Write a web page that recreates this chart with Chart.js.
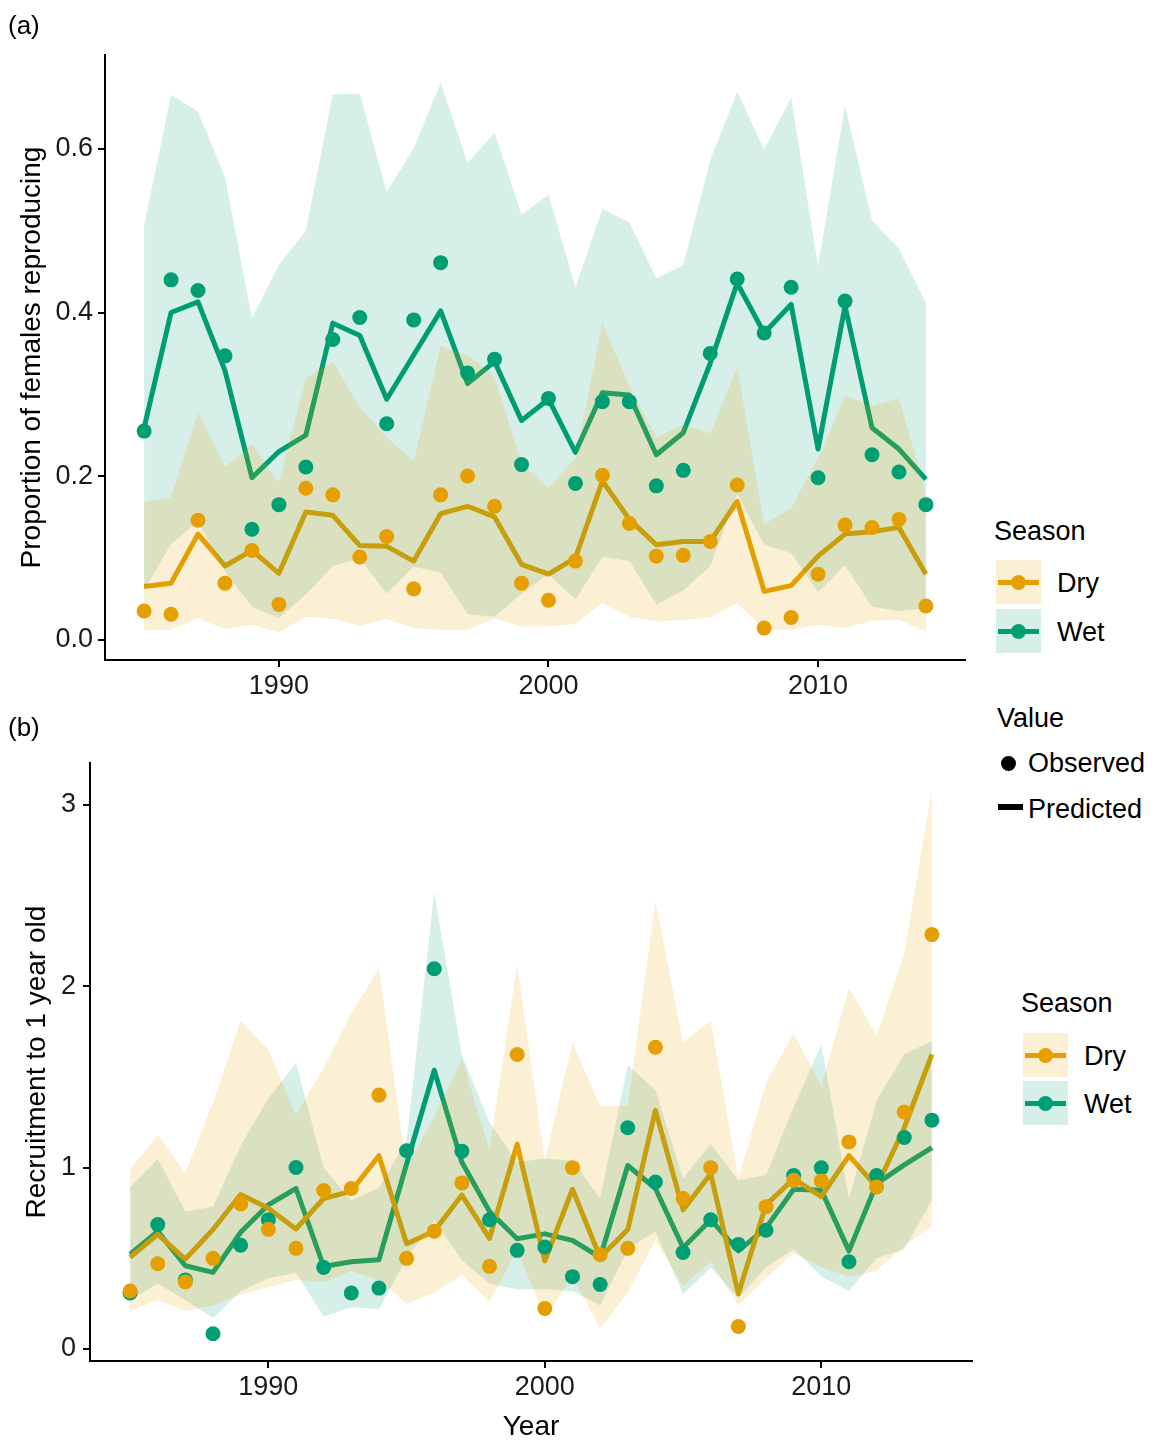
<!DOCTYPE html>
<html>
<head>
<meta charset="utf-8">
<script src="https://cdn.jsdelivr.net/npm/chart.js@4/dist/chart.umd.min.js"></script>
<style>
  body { margin: 0; background: #fff; font-family: "Liberation Sans", Arial, sans-serif; color: #000; }
  #wrap { position: relative; width: 1161px; height: 1442px; overflow: hidden; }
  canvas { position: absolute; left: 0; }
  .lbl { position: absolute; font-size: 26px; line-height: 1; }
  .txt { position: absolute; font-size: 27px; line-height: 1; white-space: nowrap; }
  .key { position: absolute; width: 45px; height: 44px; }
  .key .ln { position: absolute; left: 2px; right: 2px; top: 20px; height: 5px; }
  .key .pt { position: absolute; left: 15px; top: 15px; width: 15px; height: 15px; border-radius: 50%; }
</style>
</head>
<body>
<div id="wrap">
  <canvas id="chartA" width="980" height="720" style="top:0"></canvas>
  <canvas id="chartB" width="980" height="702" style="top:740px"></canvas>

  <div class="lbl" style="left:8px;top:12px">(a)</div>
  <div class="lbl" style="left:8px;top:714px">(b)</div>

  <div class="txt" style="left:994px;top:518px">Season</div>
  <div class="key" style="left:996px;top:560px;background:rgba(230,159,0,0.17)"><div class="ln" style="background:#E69F00"></div><div class="pt" style="background:#E69F00"></div></div>
  <div class="key" style="left:996px;top:609px;background:rgba(0,158,115,0.16)"><div class="ln" style="background:#009E73"></div><div class="pt" style="background:#009E73"></div></div>
  <div class="txt" style="left:1057px;top:570px">Dry</div>
  <div class="txt" style="left:1057px;top:619px">Wet</div>

  <div class="txt" style="left:997px;top:705px">Value</div>
  <div style="position:absolute;left:1001px;top:756px;width:15px;height:15px;border-radius:50%;background:#000"></div>
  <div class="txt" style="left:1028px;top:750px">Observed</div>
  <div style="position:absolute;left:998px;top:804px;width:25px;height:6px;background:#000"></div>
  <div class="txt" style="left:1028px;top:796px">Predicted</div>

  <div class="txt" style="left:1021px;top:990px">Season</div>
  <div class="key" style="left:1023px;top:1033px;background:rgba(230,159,0,0.17)"><div class="ln" style="background:#E69F00"></div><div class="pt" style="background:#E69F00"></div></div>
  <div class="key" style="left:1023px;top:1081px;background:rgba(0,158,115,0.16)"><div class="ln" style="background:#009E73"></div><div class="pt" style="background:#009E73"></div></div>
  <div class="txt" style="left:1084px;top:1043px">Dry</div>
  <div class="txt" style="left:1084px;top:1091px">Wet</div>
</div>

<script>
const anos = [1985, 1986, 1987, 1988, 1989, 1990, 1991, 1992, 1993, 1994, 1995, 1996, 1997, 1998, 1999,
  2000, 2001, 2002, 2003, 2004, 2005, 2006, 2007, 2008, 2009, 2010, 2011, 2012, 2013, 2014];
const xTicks = [1990, 2000, 2010];

// (a) proportion of females reproducing
const ticksA = [0, 0.2, 0.4, 0.6];
const dryObsA = [0.035, 0.031, 0.146, 0.069, 0.109, 0.043, 0.185, 0.177, 0.101, 0.126, 0.062, 0.177, 0.200, 0.163, 0.069,
  0.048, 0.096, 0.201, 0.142, 0.102, 0.103, 0.120, 0.189, 0.014, 0.027, 0.080, 0.140, 0.137, 0.147, 0.041];
const dryPredA = [0.065, 0.069, 0.129, 0.090, 0.109, 0.081, 0.156, 0.152, 0.115, 0.114, 0.096, 0.154, 0.163, 0.150, 0.092,
  0.080, 0.100, 0.194, 0.147, 0.116, 0.120, 0.120, 0.169, 0.059, 0.066, 0.102, 0.129, 0.132, 0.137, 0.080];
const dryLoA = [0.011, 0.012, 0.026, 0.013, 0.018, 0.009, 0.028, 0.025, 0.017, 0.025, 0.014, 0.012, 0.012, 0.026, 0.016,
  0.016, 0.019, 0.045, 0.028, 0.022, 0.024, 0.027, 0.045, 0.012, 0.012, 0.018, 0.014, 0.023, 0.024, 0.010];
const dryHiA = [0.169, 0.174, 0.278, 0.211, 0.239, 0.192, 0.320, 0.340, 0.284, 0.247, 0.218, 0.359, 0.347, 0.322, 0.215,
  0.186, 0.222, 0.387, 0.310, 0.247, 0.263, 0.252, 0.333, 0.141, 0.161, 0.222, 0.298, 0.286, 0.295, 0.180];
const wetObsA = [0.255, 0.440, 0.427, 0.347, 0.135, 0.165, 0.211, 0.367, 0.394, 0.264, 0.391, 0.461, 0.326, 0.343, 0.214,
  0.295, 0.191, 0.291, 0.291, 0.188, 0.207, 0.350, 0.441, 0.375, 0.431, 0.198, 0.414, 0.226, 0.205, 0.165];
const wetPredA = [0.259, 0.400, 0.413, 0.329, 0.198, 0.230, 0.250, 0.387, 0.372, 0.294, 0.348, 0.402, 0.313, 0.340, 0.268,
  0.294, 0.229, 0.302, 0.299, 0.226, 0.253, 0.338, 0.436, 0.375, 0.410, 0.233, 0.408, 0.259, 0.233, 0.196];
const wetLoA = [0.060, 0.117, 0.144, 0.083, 0.040, 0.026, 0.055, 0.090, 0.099, 0.056, 0.089, 0.082, 0.031, 0.028, 0.056,
  0.080, 0.049, 0.101, 0.096, 0.043, 0.060, 0.090, 0.178, 0.116, 0.106, 0.058, 0.091, 0.040, 0.035, 0.038];
const wetHiA = [0.506, 0.666, 0.646, 0.566, 0.393, 0.458, 0.500, 0.667, 0.668, 0.547, 0.601, 0.681, 0.583, 0.620, 0.520,
  0.544, 0.431, 0.527, 0.510, 0.442, 0.458, 0.586, 0.670, 0.599, 0.663, 0.457, 0.653, 0.513, 0.478, 0.412];

// (b) recruitment to 1 year old
const ticksB = [0, 1, 2, 3];
const dryObsB = [0.32, 0.47, 0.37, 0.50, 0.80, 0.66, 0.555, 0.874, 0.885, 1.40, 0.50, 0.65, 0.916, 0.456, 1.624,
  0.224, 1.00, 0.52, 0.555, 1.664, 0.83, 1.00, 0.124, 0.785, 0.93, 0.927, 1.142, 0.894, 1.307, 2.285];
const dryPredB = [0.505, 0.632, 0.496, 0.659, 0.852, 0.776, 0.662, 0.830, 0.871, 1.066, 0.580, 0.649, 0.849, 0.610, 1.129,
  0.486, 0.881, 0.505, 0.659, 1.316, 0.767, 0.966, 0.305, 0.795, 0.939, 0.840, 1.066, 0.894, 1.220, 1.624];
const dryLoB = [0.21, 0.27, 0.21, 0.24, 0.30, 0.34, 0.38, 0.37, 0.43, 0.38, 0.25, 0.31, 0.41, 0.26, 0.55,
  0.17, 0.40, 0.115, 0.31, 0.60, 0.35, 0.48, 0.24, 0.39, 0.53, 0.45, 0.40, 0.43, 0.57, 0.68];
const dryHiB = [0.99, 1.18, 0.97, 1.36, 1.81, 1.65, 1.29, 1.55, 1.85, 2.10, 1.00, 1.28, 1.60, 1.10, 2.12,
  1.04, 1.69, 1.34, 1.34, 2.47, 1.69, 1.81, 0.94, 1.47, 1.74, 1.45, 1.99, 1.73, 2.18, 3.08];
const wetObsB = [0.309, 0.686, 0.381, 0.084, 0.572, 0.713, 1.001, 0.450, 0.309, 0.336, 1.093, 2.097, 1.091, 0.713, 0.544,
  0.563, 0.399, 0.356, 1.220, 0.921, 0.532, 0.713, 0.577, 0.655, 0.957, 0.999, 0.481, 0.957, 1.166, 1.262];
const wetPredB = [0.523, 0.649, 0.459, 0.423, 0.644, 0.795, 0.885, 0.455, 0.481, 0.492, 1.02, 1.537, 1.030, 0.758, 0.608,
  0.635, 0.599, 0.505, 1.012, 0.885, 0.559, 0.713, 0.541, 0.668, 0.881, 0.876, 0.541, 0.912, 1.015, 1.111];
const wetLoB = [0.27, 0.36, 0.27, 0.17, 0.32, 0.39, 0.42, 0.18, 0.23, 0.22, 0.50, 0.71, 0.49, 0.36, 0.33,
  0.33, 0.32, 0.24, 0.55, 0.65, 0.30, 0.45, 0.28, 0.45, 0.55, 0.40, 0.32, 0.50, 0.55, 0.82];
const wetHiB = [0.894, 1.048, 0.758, 0.785, 1.121, 1.383, 1.577, 1.00, 0.82, 0.89, 1.15, 2.52, 1.62, 1.25, 1.03,
  1.05, 1.04, 0.83, 1.564, 1.428, 0.94, 1.131, 0.93, 0.959, 1.335, 1.679, 0.83, 1.37, 1.625, 1.70];

const LARANJA = '#E69F00';
const VERDE = '#009E73';
const FONTE = '"Liberation Sans", Arial, sans-serif';

const pts = arr => arr.map((v, i) => ({ x: anos[i], y: v }));

function montarDatasets(d) {
  const linha = (vals, cor) => ({
    data: pts(vals), borderColor: cor, borderWidth: 5, pointRadius: 0,
    borderJoinStyle: 'round', borderCapStyle: 'butt', fill: false, order: 10
  });
  const limite = vals => ({
    data: pts(vals), borderColor: 'rgba(0,0,0,0)', borderWidth: 0, pointRadius: 0, fill: false, order: 5
  });
  const banda = (vals, alvo, cor) => ({
    data: pts(vals), borderColor: 'rgba(0,0,0,0)', borderWidth: 0, pointRadius: 0,
    fill: { target: alvo }, backgroundColor: cor, order: 5
  });
  const pontos = (vals, cor) => ({
    data: pts(vals), showLine: false, pointRadius: 7.5, pointHoverRadius: 7.5,
    pointBackgroundColor: cor, pointBorderWidth: 0, order: 1
  });
  return [
    linha(d.dryPred, LARANJA),                          // 0
    linha(d.wetPred, VERDE),                            // 1
    limite(d.dryLo),                                    // 2
    banda(d.dryHi, 2, 'rgba(230,159,0,0.17)'),          // 3
    limite(d.wetLo),                                    // 4
    banda(d.wetHi, 4, 'rgba(0,158,115,0.16)'),          // 5
    pontos(d.dryObs, LARANJA),                          // 6
    pontos(d.wetObs, VERDE)                             // 7
  ];
}

function criarGrafico(id, d, cfg) {
  const ctx = document.getElementById(id).getContext('2d');
  return new Chart(ctx, {
    type: 'line',
    data: { datasets: montarDatasets(d) },
    options: {
      responsive: false,
      animation: false,
      events: [],
      layout: { padding: cfg.padding },
      plugins: { legend: { display: false }, tooltip: { enabled: false } },
      scales: {
        x: {
          type: 'linear', min: 1983.55, max: 2015.45,
          afterBuildTicks: s => { s.ticks = xTicks.map(v => ({ value: v })); },
          afterFit: s => { s.height = cfg.xHeight; },
          grid: { drawOnChartArea: false, drawTicks: true, tickLength: 7, color: '#000', lineWidth: 2 },
          border: { display: true, color: '#000', width: 2 },
          ticks: { color: '#1a1a1a', padding: 3, maxRotation: 0, font: { family: FONTE, size: 27 }, callback: v => String(v) },
          title: cfg.xTitle ? { display: true, text: cfg.xTitle, color: '#000', font: { family: FONTE, size: 28, lineHeight: 1 }, padding: { top: 0, bottom: 1 } } : { display: false }
        },
        y: {
          type: 'linear', min: cfg.yMin, max: cfg.yMax,
          afterBuildTicks: s => { s.ticks = cfg.yTicks.map(v => ({ value: v })); },
          afterFit: s => { s.width = cfg.yWidth; },
          grid: { drawOnChartArea: false, drawTicks: true, tickLength: 7, color: '#000', lineWidth: 2 },
          border: { display: true, color: '#000', width: 2 },
          ticks: { color: '#1a1a1a', padding: cfg.yPad, font: { family: FONTE, size: 27 }, callback: cfg.yFmt },
          title: { display: true, text: cfg.yTitle, color: '#000', font: { family: FONTE, size: 28, lineHeight: 1.2 }, padding: { top: cfg.yTitlePad, bottom: 0 } }
        }
      }
    }
  });
}

criarGrafico('chartA', {
  dryObs: dryObsA, dryPred: dryPredA, dryLo: dryLoA, dryHi: dryHiA,
  wetObs: wetObsA, wetPred: wetPredA, wetLo: wetLoA, wetHi: wetHiA
}, {
  padding: { left: 0, top: 55, right: 15, bottom: 0 },
  xHeight: 60, yWidth: 105, yPad: 5, yTitlePad: 15,
  yMin: -0.025, yMax: 0.715, yTicks: ticksA, yFmt: v => v.toFixed(1),
  yTitle: 'Proportion of females reproducing'
});

criarGrafico('chartB', {
  dryObs: dryObsB, dryPred: dryPredB, dryLo: dryLoB, dryHi: dryHiB,
  wetObs: wetObsB, wetPred: wetPredB, wetLo: wetLoB, wetHi: wetHiB
}, {
  padding: { left: 0, top: 17, right: 8, bottom: 0 },
  xHeight: 81, yWidth: 90, yPad: 7, yTitlePad: 20,
  yMin: -0.066, yMax: 3.23, yTicks: ticksB, yFmt: v => String(v),
  yTitle: 'Recruitment to 1 year old', xTitle: 'Year'
});
</script>
</body>
</html>
